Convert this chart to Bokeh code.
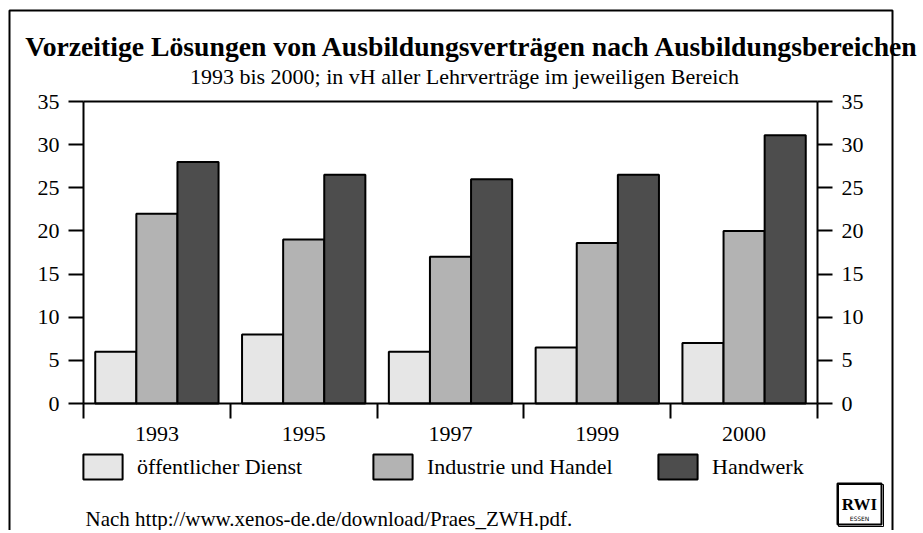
from bokeh.plotting import figure
from bokeh.models import (Range1d, FixedTicker, Legend, LegendItem, LinearAxis,
                          Label, BoxAnnotation)
from bokeh.transform import dodge
from bokeh.embed import file_html
from bokeh.resources import INLINE

years = ["1993", "1995", "1997", "1999", "2000"]
oeffentlich = [6.0, 8.0, 6.0, 6.5, 7.0]
industrie = [22.0, 19.0, 17.0, 18.6, 20.0]
handwerk = [28.0, 26.5, 26.0, 26.5, 31.1]
series_names = ["öffentlicher Dienst", "Industrie und Handel", "Handwerk"]
y_ticks = [0, 5, 10, 15, 20, 25, 30, 35]

title_text = "Vorzeitige Lösungen von Ausbildungsverträgen nach Ausbildungsbereichen"
subtitle_text = "1993 bis 2000; in vH aller Lehrverträge im jeweiligen Bereich"
source_text = "Nach http://www.xenos-de.de/download/Praes_ZWH.pdf."

FONT = "Liberation Serif"
colors = ["#e6e6e6", "#b3b3b3", "#4d4d4d"]

n = len(years)
pos = [k + 0.5 for k in range(n)]  # category centres on a numeric axis
ymax = y_ticks[-1]

# canvas geometry (pixels) -> the frame covers the whole canvas
W, H = 920, 530
plot_left, plot_right, plot_top, plot_bottom = 83, 817, 101, 403
px_x = (plot_right - plot_left) / n
px_y = (plot_bottom - plot_top) / ymax
x_range = Range1d(-plot_left / px_x, (W - plot_left) / px_x)
y_range = Range1d(-(H - plot_bottom) / px_y, plot_bottom / px_y)

p = figure(width=W, height=H, output_backend="svg", toolbar_location=None,
           x_range=x_range, y_range=y_range,
           min_border=0, min_border_left=0, min_border_right=0,
           min_border_top=0, min_border_bottom=0)
p.xgrid.visible = False
p.ygrid.visible = False
p.outline_line_color = None
p.background_fill_color = "white"
p.border_fill_color = "white"

data = dict(pos=pos, year=years, o=oeffentlich, i=industrie, h=handwerk)
bw = 0.28
r1 = p.vbar(x=dodge("pos", -bw), top="o", width=bw, source=data,
            fill_color=colors[0], line_color="black", line_width=2)
r2 = p.vbar(x=dodge("pos", 0), top="i", width=bw, source=data,
            fill_color=colors[1], line_color="black", line_width=2)
r3 = p.vbar(x=dodge("pos", bw), top="h", width=bw, source=data,
            fill_color=colors[2], line_color="black", line_width=2)

def style_y(ax, loc):
    ax.fixed_location = loc
    ax.bounds = (0, ymax)
    ax.ticker = FixedTicker(ticks=y_ticks)
    ax.major_tick_out = 15
    ax.major_tick_in = 0
    ax.minor_tick_out = 0
    ax.minor_tick_in = 0
    ax.axis_line_width = 2
    ax.major_tick_line_width = 2
    ax.major_label_text_font = FONT
    ax.major_label_text_font_size = "22px"
    ax.major_label_text_color = "black"
    ax.major_label_standoff = 9

style_y(p.yaxis[0], 0)
ry = LinearAxis()
style_y(ry, n)
p.add_layout(ry, "right")

xa = p.xaxis[0]
xa.fixed_location = 0
xa.bounds = (0, n)
xa.ticker = FixedTicker(ticks=pos, minor_ticks=list(range(n + 1)))
xa.major_label_overrides = {pv: y for pv, y in zip(pos, years)}
xa.major_tick_out = 0
xa.major_tick_in = 0
xa.minor_tick_out = 15
xa.minor_tick_in = 0
xa.minor_tick_line_width = 2
xa.axis_line_width = 2
xa.major_label_text_font = FONT
xa.major_label_text_font_size = "22px"
xa.major_label_text_color = "black"
xa.major_label_standoff = 8

# top line of the plot box
ta = LinearAxis(fixed_location=ymax, bounds=(0, n), ticker=FixedTicker(ticks=[]),
                major_label_text_alpha=0, major_tick_out=0, major_tick_in=0,
                minor_tick_out=0, minor_tick_in=0, axis_line_width=2)
p.add_layout(ta, "above")

# legends (one per series, placed like the reference)
for r, name, lx in zip([r1, r2, r3], series_names, [78, 368, 653]):
    lg = Legend(items=[LegendItem(label=name, renderers=[r])], location=(lx, H - 482),
                glyph_width=49, glyph_height=31, padding=0, margin=0, label_standoff=10,
                border_line_alpha=0, background_fill_alpha=0,
                label_text_font=FONT, label_text_font_size="22px", label_text_color="black")
    p.add_layout(lg)

# outer frame
p.add_layout(BoxAnnotation(left=9, right=892, top=10, bottom=600,
                           left_units="canvas", right_units="canvas",
                           top_units="canvas", bottom_units="canvas",
                           fill_alpha=0, line_color="black", line_alpha=1, line_width=2))

p.add_layout(Label(x=472, y=46, x_units="canvas", y_units="canvas", text=title_text,
                   text_align="center", text_baseline="alphabetic", text_font=FONT,
                   text_font_style="bold", text_font_size="27.7px", text_color="black"))
p.add_layout(Label(x=464, y=76, x_units="canvas", y_units="canvas", text=subtitle_text,
                   text_align="center", text_baseline="alphabetic", text_font=FONT,
                   text_font_size="22px", text_color="black"))
p.add_layout(Label(x=85, y=518, x_units="canvas", y_units="canvas", text=source_text,
                   text_align="left", text_baseline="alphabetic", text_font=FONT,
                   text_font_size="21px", text_color="black"))

# RWI logo
p.add_layout(BoxAnnotation(left=838, right=883, top=484, bottom=526,
                           left_units="canvas", right_units="canvas",
                           top_units="canvas", bottom_units="canvas",
                           fill_color="white", fill_alpha=1, line_color="black",
                           line_alpha=1, line_width=1))
p.add_layout(BoxAnnotation(left=837, right=881, top=483, bottom=524,
                           left_units="canvas", right_units="canvas",
                           top_units="canvas", bottom_units="canvas",
                           fill_alpha=0, line_color="black", line_alpha=1, line_width=2))
p.add_layout(Label(x=859, y=504, x_units="canvas", y_units="canvas", text="RWI",
                   text_align="center", text_baseline="alphabetic", text_font=FONT,
                   text_font_style="bold", text_font_size="17px", text_color="black"))
p.add_layout(Label(x=859, y=518, x_units="canvas", y_units="canvas", text="ESSEN",
                   text_align="center", text_baseline="alphabetic", text_font="DejaVu Sans",
                   text_font_size="6px", text_color="black"))

open("out.html", "w").write(file_html(p, INLINE))
